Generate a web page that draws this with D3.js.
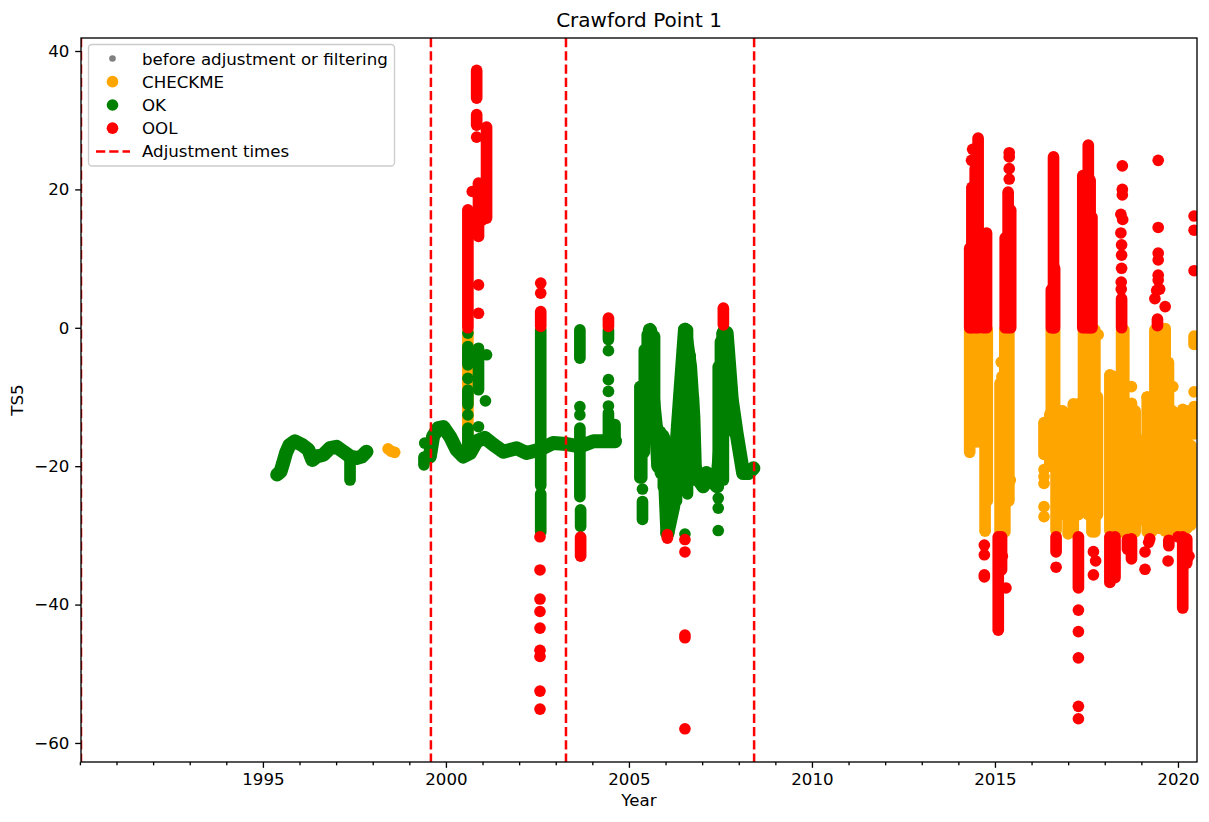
<!DOCTYPE html>
<html><head><meta charset="utf-8">
<script src="https://cdn.jsdelivr.net/npm/d3@7/dist/d3.min.js"></script>
<style>
html,body{margin:0;padding:0;background:#fff}
svg{display:block}
text{font-family:"DejaVu Sans",sans-serif;fill:#000}
</style></head><body>
<svg id="chart" width="1209" height="822"></svg>
<script>
const chartTitle = "Crawford Point 1";
const xLabel = "Year";
const yLabel = "TS5";
const majorYears = [1995, 2000, 2005, 2010, 2015, 2020];
const minorYears = d3.range(1990, 2021);
const yTicks = [40, 20, 0, -20, -40, -60];
const adjustmentTimes = [1990.03, 1999.59, 2003.28, 2008.42];
const legendLabels = ["before adjustment or filtering", "CHECKME", "OK", "OOL", "Adjustment times"];

// Overplotted runs of observations: [year, top value, bottom value]
const checkmeColumns = [
  [2000.6,-0.5,-17.5],
  [2014.31,-0.3,-18],[2014.4,-0.3,-15.5],[2014.5,-0.3,-16.5],[2014.6,-0.3,-16.5],[2014.73,-0.3,-29.4],[2014.79,-0.3,-25],
  [2015.14,-8,-29.5],[2015.27,-0.3,-29.5],[2015.38,-0.3,-25],
  [2016.34,-13.7,-18.3],[2016.5,-12.5,-20],[2016.54,-0.3,-12.5],[2016.63,-0.3,-12],[2016.67,-12,-29.3],[2016.77,-12,-27],[2016.85,-12,-20],
  [2017,-12.5,-29.8],[2017.14,-11,-29.5],[2017.28,-11,-27],[2017.42,-0.3,-22],[2017.55,-0.3,-27],[2017.65,-0.3,-29.5],[2017.73,-0.3,-29.5],[2017.8,-10,-27],
  [2018.14,-6.8,-29.3],[2018.24,-7,-29.5],[2018.34,-10,-29.5],[2018.46,-0.3,-29.5],[2018.52,-0.3,-29],[2018.62,-11,-29],[2018.73,-10.9,-29.5],[2018.83,-12,-29.5],[2018.89,-16,-28],
  [2019.16,-10,-29.5],[2019.28,-11,-29.5],[2019.37,-0.3,-29],[2019.51,-0.3,-15],[2019.5,-18,-29],[2019.65,-0.1,-29.4],[2019.74,-5,-29.4],[2019.85,-12,-26],
  [2020,-14,-29],[2020.13,-11.8,-29.4],[2020.24,-12,-29],[2020.35,-17,-28.5],[2020.44,-11.4,-15.35],[2020.44,-1.2,-2.4]
];
const okColumns = [
  [1997.38,-18.6,-22],[1999.4,-18.7,-19.8],
  [2000.6,-14.5,-17.6],[2000.6,-2.7,-5.35],[2000.6,-9,-11.1],[2000.89,-2.95,-8.96],
  [2002.59,-0.3,-22.8],[2002.59,-24,-29.5],
  [2003.66,-0.29,-4.4],[2003.66,-14.5,-24.4],[2003.68,-26.3,-28.7],
  [2004.44,-0.3,-1.7],[2004.44,-12.3,-16.4],[2004.62,-14,-16.4],
  [2005.3,-8.5,-21.7],[2005.35,-8.5,-21.7],[2005.37,-25.1,-27.7],[2005.42,-3.2,-18],[2005.5,-1,-15],[2005.57,-0.3,-12.8],[2005.62,-0.5,-14],[2005.7,-1.25,-16],
  [2005.78,-14.5,-20],[2005.86,-15,-21],[2005.94,-15.5,-23],[2006.05,-20,-29.7],[2006.15,-20,-27],[2006.3,-17,-25],[2006.39,-11,-22.5],
  [2006.47,-3,-22],[2006.53,-0.3,-22.2],[2006.6,-0.3,-24],[2006.67,-4,-20],[2006.76,-10,-22],
  [2007.44,-5.6,-23],[2007.5,-2,-22],[2007.58,-0.4,-22],[2007.66,-0.5,-15],[2007.7,-2,-14]
];
const oolColumns = [
  [2000.6,17.05,0],[2000.84,37.2,33.2],[2000.84,30.8,29.3],[2000.89,20.9,13.2],[2001.11,29,15.85],[2001,19.5,15.6],
  [2002.59,2.35,0.2],[2003.68,-30.25,-33],[2004.44,1.4,0.2],[2007.58,2.84,0.43],[2006.05,-29.9,-30.4],
  [2014.31,11.5,0],[2014.37,20.3,0],[2014.46,23,0],[2014.54,27.4,0],[2014.68,13.5,0],[2014.77,13.7,0],
  [2015.09,-30.2,-43.7],[2015.18,-30.2,-35],[2015.28,13,0],[2015.36,19.6,0],[2015.43,17,0],
  [2016.54,5.5,0],[2016.6,24.7,0],[2016.63,8.6,0],[2016.67,-30.2,-32.4],
  [2017.28,-30.2,-37.6],[2017.4,22,0],[2017.48,21,0],[2017.55,26.4,0],[2017.6,21.3,0],[2017.65,16,0],
  [2018.14,-30.2,-36.8],[2018.28,-30.2,-36.1],[2018.46,4.2,0],[2018.62,-30.6,-32],[2018.73,-30.5,-33.4],
  [2019.44,1.25,0.3],[2019.75,-30.7,-31.5],[2020.13,-30.2,-40.5],[2020.24,-30.5,-34]
];

// Slowly varying stretches of the record, as [year, value]
const okTraces = [
  [[1995.39,-21.2],[1995.48,-20.8],[1995.55,-19.6],[1995.63,-18.1],[1995.72,-17],[1995.87,-16.4],[1996.06,-16.9],[1996.24,-17.6],[1996.35,-19.1],[1996.47,-18.6],[1996.65,-18.35],[1996.83,-17.4],[1997.01,-17.2],[1997.2,-17.9],[1997.38,-18.6],[1997.56,-18.8],[1997.7,-18.6],[1997.83,-17.9]],
  [[1999.56,-18.6],[1999.65,-15.7],[1999.79,-14.5],[1999.93,-14.35],[2000.11,-15.7],[2000.29,-17.6],[2000.47,-18.6],[2000.66,-18.1],[2000.84,-16.4],[2001.06,-15.9],[2001.3,-16.9],[2001.57,-17.9],[2001.93,-17.4],[2002.2,-18.1],[2002.57,-17.6],[2002.93,-16.66],[2003.3,-16.8],[2003.66,-17.15],[2004.03,-16.4],[2004.3,-16.4],[2004.62,-16.4]],
  [[2005.57,-0.3],[2005.66,-10.4],[2005.75,-15],[2005.8,-20],[2005.94,-16],[2006.05,-29.7]],
  [[2006.05,-29.7],[2006.21,-25.8],[2006.26,-20],[2006.39,-10.4],[2006.53,-0.29]],
  [[2006.53,-0.3],[2006.67,-5.6],[2006.76,-12.8],[2006.8,-20],[2006.85,-21.5],[2007.03,-22.9],[2007.12,-21],[2007.4,-22.9],[2007.49,-17.6],[2007.58,-0.8]],
  [[2007.58,-0.8],[2007.67,-0.77],[2007.81,-10.4],[2007.94,-15.2],[2008.12,-21],[2008.26,-21],[2008.4,-20.3]]
];

// Separately visible observations, as [year, value]
const checkmeDots = [
  [1998.42,-17.5],[1998.51,-17.87],[1998.6,-18],
  [2015.17,-4.95],[2015.19,-7.05],[2015.42,-22],
  [2016.34,-20.5],[2016.34,-21.5],[2016.34,-22.5],[2016.34,-25.85],[2016.34,-27.3],
  [2017.82,-1],[2018.73,-8.5],[2019.86,-8.5],[2019.16,-10],[2020.44,-9.25]
];
const okDots = [
  [1999.42,-16.66],[2000.6,-0.77],[2000.6,-7.3],[2000.6,-12.6],[2000.89,-14.3],[2001.11,-3.9],[2001.08,-10.55],
  [2003.66,-11.4],[2003.66,-12.6],[2004.44,-3.3],[2004.44,-7.5],[2004.44,-9.2],[2004.44,-11.3],
  [2005.37,-23.3],[2006.53,-29.8],[2007.44,-24.6],[2007.44,-26.05],[2007.44,-29.3]
];
const oolDots = [
  [2000.84,27.55],[2000.72,19.7],[2000.89,6.2],[2000.89,2.1],
  [2002.59,6.45],[2002.59,5],[2002.57,-30.2],[2002.57,-35],[2002.57,-39.2],[2002.57,-41],[2002.57,-43.4],[2002.57,-46.6],[2002.57,-47.5],[2002.57,-52.5],[2002.57,-55.1],
  [2006.53,-30.6],[2006.53,-32.4],[2006.53,-44.4],[2006.53,-44.8],[2006.53,-57.95],
  [2014.39,25.8],[2014.36,24.2],[2014.71,-31.4],[2014.71,-32.8],[2014.71,-35.7],[2014.71,-36],
  [2015.3,-37.6],[2015.2,-33],[2015.39,25.3],[2015.39,24.7],[2015.39,23],[2015.39,21.5],
  [2016.67,-34.6],[2017.28,-40.8],[2017.28,-43.9],[2017.28,-47.7],[2017.28,-54.7],[2017.28,-56.5],
  [2017.69,-32.35],[2017.75,-33.7],[2017.69,-35.7],
  [2018.48,23.4],[2018.48,20],[2018.48,19.2],[2018.44,16.4],[2018.49,15.65],[2018.44,13.7],[2018.46,12],[2018.46,10.5],[2018.46,8.6],[2018.45,6.6],[2018.45,5.6],
  [2019.1,-32.4],[2019.1,-34.9],[2019.23,-30.5],[2019.2,-31],
  [2019.46,24.2],[2019.46,14.5],[2019.46,10.8],[2019.46,9.8],[2019.46,7.6],[2019.46,6.9],[2019.42,5.4],[2019.5,5.6],[2019.37,4.2],[2019.65,3.06],
  [2019.73,-33.7],[2020,-30.2],[2020.3,-33],[2020.44,16.15],[2020.44,14.1],[2020.44,8.25]
];

const W = 1209, H = 822, L = 81, R = 1197, T = 38, B = 762;
const COL = {grey:"#808080", checkme:"#ffa500", ok:"#008000", ool:"#ff0000"};
const RADIUS = 5.83, TRACE_WIDTH = 14, FS = 16.67;

const svg = d3.select("#chart");
const x = d3.scaleLinear().domain([1990.03, 2020.52]).range([L, R]);
const y = d3.scaleLinear().domain([41.88, -62.75]).range([T, B]);

svg.append("defs").append("clipPath").attr("id","plot")
  .append("rect").attr("x",L).attr("y",T).attr("width",R-L).attr("height",B-T);

const plot = svg.append("g").attr("clip-path","url(#plot)");
const line = d3.line().x(d=>x(d[0])).y(d=>y(d[1]));

function drawSeries(color, columns, traces, dots){
  const g = plot.append("g");
  g.selectAll("line.col").data(columns).join("line").attr("class","col")
    .attr("x1",d=>x(d[0])).attr("x2",d=>x(d[0]))
    .attr("y1",d=>y(d[1])).attr("y2",d=>y(d[2]))
    .attr("stroke",color).attr("stroke-width",RADIUS*2).attr("stroke-linecap","round");
  g.selectAll("path.trace").data(traces).join("path").attr("class","trace")
    .attr("d",line).attr("fill","none").attr("stroke",color)
    .attr("stroke-width",TRACE_WIDTH).attr("stroke-linecap","round").attr("stroke-linejoin","round");
  g.selectAll("circle").data(dots).join("circle")
    .attr("cx",d=>x(d[0])).attr("cy",d=>y(d[1])).attr("r",RADIUS).attr("fill",color);
}
drawSeries(COL.checkme, checkmeColumns, [], checkmeDots);
drawSeries(COL.ok, okColumns, okTraces, okDots);
drawSeries(COL.ool, oolColumns, [], oolDots);

plot.append("g").selectAll("line").data(adjustmentTimes).join("line")
  .attr("x1",d=>x(d)).attr("x2",d=>x(d)).attr("y1",T).attr("y2",B)
  .attr("stroke",COL.ool).attr("stroke-width",2.5).attr("stroke-dasharray","9.25,4");

// axes
const axisStyle = g => {
  g.select(".domain").remove();
  g.selectAll("line").attr("stroke","#000").attr("stroke-width",1.33);
  g.selectAll("text").attr("font-size",FS).attr("font-family",'"DejaVu Sans",sans-serif').attr("fill","#000");
};
svg.append("g").attr("transform",`translate(0,${B})`)
  .call(d3.axisBottom(x).tickValues(minorYears.filter(v=>!majorYears.includes(v))).tickSize(3.33).tickFormat(""))
  .call(axisStyle);
svg.append("g").attr("transform",`translate(0,${B})`)
  .call(d3.axisBottom(x).tickValues(majorYears).tickSize(5.83).tickPadding(5.83).tickFormat(d3.format("d")))
  .call(axisStyle);
svg.append("g").attr("transform",`translate(${L},0)`)
  .call(d3.axisLeft(y).tickValues(yTicks).tickSize(5.83).tickPadding(5.83).tickFormat(v=>String(v).replace("-","\u2212")))
  .call(axisStyle);

svg.append("rect").attr("x",L).attr("y",T).attr("width",R-L).attr("height",B-T)
  .attr("fill","none").attr("stroke","#000").attr("stroke-width",1.33);

svg.append("text").attr("x",(L+R)/2).attr("y",27).attr("text-anchor","middle").attr("font-size",20).text(chartTitle);
svg.append("text").attr("x",(L+R)/2).attr("y",806).attr("text-anchor","middle").attr("font-size",FS).text(xLabel);
svg.append("text").attr("transform",`translate(23,${(T+B)/2}) rotate(-90)`).attr("text-anchor","middle").attr("font-size",FS).text(yLabel);

// legend
const lg = svg.append("g");
lg.append("rect").attr("x",88.5).attr("y",44.5).attr("width",306).attr("height",121.5).attr("rx",3.5)
  .attr("fill","#fff").attr("fill-opacity",0.8).attr("stroke","#cccccc").attr("stroke-width",1.33);
const legendY = [58.5, 81.7, 105, 128.2, 151.4];
const legendColors = [COL.grey, COL.checkme, COL.ok, COL.ool];
legendLabels.forEach((label,i)=>{
  if(i<4){
    lg.append("circle").attr("cx",112.5).attr("cy",legendY[i]).attr("r",i===0?3.3:RADIUS).attr("fill",legendColors[i]);
  } else {
    lg.append("line").attr("x1",96).attr("x2",130).attr("y1",legendY[i]).attr("y2",legendY[i])
      .attr("stroke",COL.ool).attr("stroke-width",2.5).attr("stroke-dasharray","9.25,4");
  }
  lg.append("text").attr("x",142).attr("y",legendY[i]+6).attr("font-size",FS).text(label);
});
</script>
</body></html>
